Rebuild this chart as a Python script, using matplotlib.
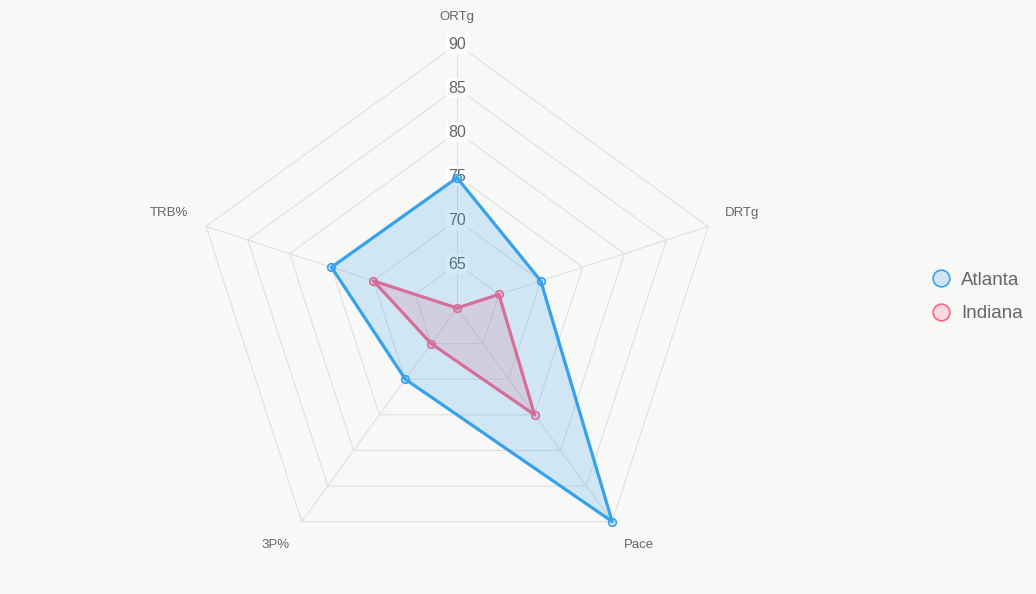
import numpy as np
import matplotlib
matplotlib.use("Agg")
import matplotlib.pyplot as plt
from matplotlib.lines import Line2D

# data
categories = ["ORTg", "DRTg", "Pace", "3P%", "TRB%"]
atlanta = [74.8, 70, 90, 70, 75]
indiana = [60, 65, 75, 65, 70]
ring_values = [65, 70, 75, 80, 85, 90]
r_min, r_max = 60, 90

BLUE = "#36a2eb"
PINK = "#ff6384"
BLUE_FILL = (54/255, 162/255, 235/255, 0.2)
PINK_FILL = (255/255, 99/255, 132/255, 0.2)
BG = "#f8f8f7"
GRID = "#dfdfde"
TEXT = "#666666"

plt.rcParams["font.family"] = ["Liberation Sans", "DejaVu Sans"]

fig = plt.figure(figsize=(10.36, 5.94), dpi=100, facecolor=BG)
ax = fig.add_axes([0.1863, 0.037, 0.5097, 0.8889], projection="polar")
ax.set_facecolor("none")
ax.set_theta_offset(np.pi / 2)
ax.set_theta_direction(-1)
ax.set_ylim(r_min, r_max)
ax.set_xticks([])
ax.set_yticks([])
ax.grid(False)
ax.spines["polar"].set_visible(False)

n = len(categories)
angles = np.linspace(0, 2 * np.pi, n, endpoint=False)
closed = np.concatenate([angles, angles[:1]])

# pentagon rings and spokes
for v in ring_values:
    ax.plot(closed, [v] * (n + 1), color=GRID, lw=0.8, zorder=1, clip_on=False)
for a in angles:
    ax.plot([a, a], [r_min, r_max], color=GRID, lw=0.8, zorder=1, clip_on=False)

# tick labels on the top spoke
for v in ring_values:
    ax.text(0, v, str(v), ha="center", va="center", fontsize=11.5, color=TEXT, zorder=2,
            bbox=dict(facecolor="white", alpha=0.75, edgecolor="none", pad=1.5))

# point labels
label_offsets = [(0, 19.5), (24.5, 10), (19.5, -16.5), (-18.7, -16.5), (-26.6, 10)]
for a, name, off in zip(angles, categories, label_offsets):
    ax.annotate(name, xy=(a, r_max), xytext=off, textcoords="offset points",
                ha="center", va="center", fontsize=9.5, color=TEXT, annotation_clip=False)


def draw(values, color, fill, z):
    vals = list(values) + [values[0]]
    ax.fill(closed, vals, color=color, alpha=0.2, lw=0, zorder=z, clip_on=False)
    ax.plot(closed, vals, color=color, lw=2.3, zorder=z + 0.1, clip_on=False)
    ax.plot(angles, values, "o", ms=5.5, mfc=fill, mec=color, mew=1.2,
            zorder=z + 0.2, clip_on=False)


# Atlanta is drawn on top of Indiana
draw(indiana, PINK, PINK_FILL, 3)
draw(atlanta, BLUE, BLUE_FILL, 4)

handles = [
    Line2D([], [], ls="none", marker="o", ms=12, mfc=BLUE_FILL, mec=BLUE, mew=1.2),
    Line2D([], [], ls="none", marker="o", ms=12, mfc=PINK_FILL, mec=PINK, mew=1.2),
]
leg = fig.legend(handles, ["Atlanta", "Indiana"], loc="center left",
                 bbox_to_anchor=(0.881, 0.5), frameon=False, fontsize=13.5,
                 labelspacing=0.85, handletextpad=0.5, handlelength=1.2)
for t in leg.get_texts():
    t.set_color(TEXT)

fig.savefig("out.png", dpi=100, facecolor=BG)
